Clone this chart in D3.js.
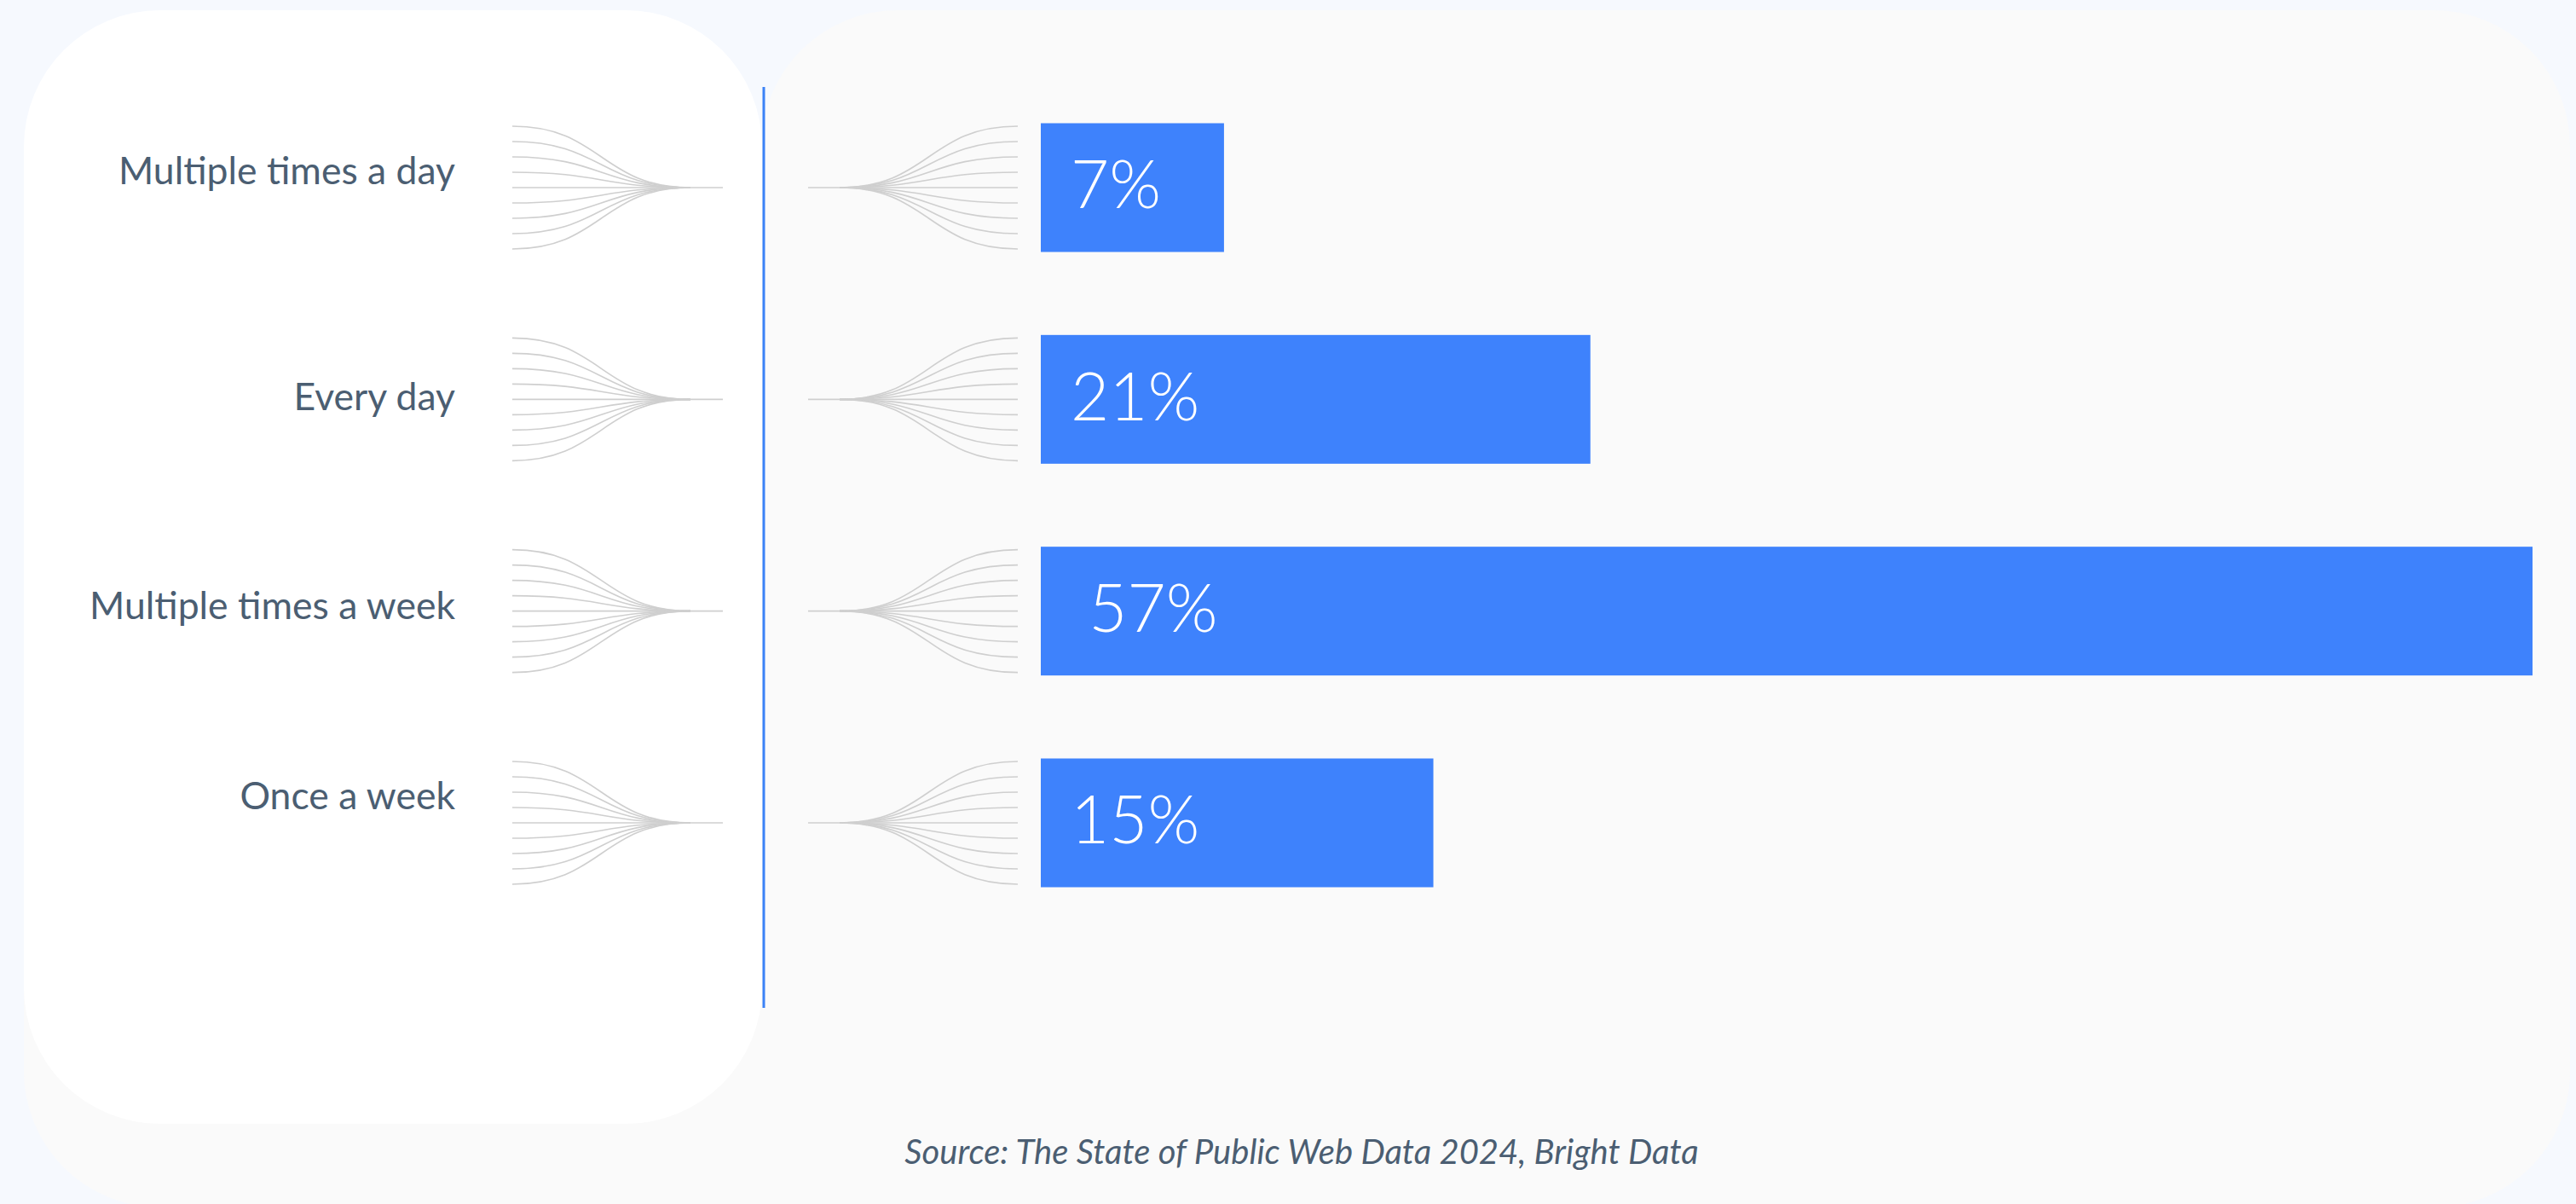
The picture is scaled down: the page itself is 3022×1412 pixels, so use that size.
<!DOCTYPE html>
<html>
<head>
<meta charset="utf-8">
<script src="https://cdn.jsdelivr.net/npm/d3@7/dist/d3.min.js"></script>
<style>
  html, body { margin: 0; padding: 0; background: #f6f9fe; }
  svg { display: block; }
</style>
</head>
<body>
<script>
// ---- data ----
const categories = ["Multiple times a day", "Every day", "Multiple times a week", "Once a week"];
const values = [7, 21, 57, 15];
const valueLabels = ["7%", "21%", " 57%", "15%"];
const sourceText = "Source: The State of Public Web Data 2024, Bright Data";

const W = 3022, H = 1412;
const svg = d3.select("body").append("svg").attr("width", W).attr("height", H);

// background panels
svg.append("rect").attr("width", W).attr("height", H).attr("fill", "#f6f9fe");
svg.append("rect").attr("x", 893).attr("y", 12).attr("width", 2122).attr("height", 1404)
  .attr("rx", 160).attr("ry", 160).attr("fill", "#fafafa");
svg.append("rect").attr("x", 28).attr("y", 600).attr("width", 2987).attr("height", 816)
  .attr("rx", 160).attr("ry", 160).attr("fill", "#fafafa");
svg.append("rect").attr("x", 28).attr("y", 12).attr("width", 866).attr("height", 1306)
  .attr("rx", 160).attr("ry", 160).attr("fill", "#ffffff");

// scales
const y = d3.scalePoint().domain(categories).range([220, 965]);
const x = d3.scaleLinear().domain([0, 57]).range([1221, 2971]);
const barH = 151;

// axis line (blue vertical)
svg.append("line").attr("x1", 896).attr("x2", 896).attr("y1", 102).attr("y2", 1182)
  .attr("stroke", "#3b82f6").attr("stroke-width", 3);

// fans
const fanOffsets = d3.range(-4, 5).map(i => i * 18);
const link = d3.linkHorizontal().x(d => d[0]).y(d => d[1]);
const fanG = svg.append("g").attr("fill", "none").attr("stroke", "#cfcfcf").attr("stroke-width", 1.6);

categories.forEach(c => {
  const cy = y(c);
  fanOffsets.forEach(o => {
    fanG.append("path").attr("d", link({source: [601, cy + o], target: [810, cy]}));
  });
  fanG.append("line").attr("x1", 808).attr("x2", 848).attr("y1", cy).attr("y2", cy);
  fanOffsets.forEach(o => {
    fanG.append("path").attr("d", link({source: [985, cy], target: [1194, cy + o]}));
  });
  fanG.append("line").attr("x1", 948).attr("x2", 987).attr("y1", cy).attr("y2", cy);
});

// category labels (the original layout nudges each label slightly)
const labelNudge = [-4, 13, 9, -16];
svg.append("g").selectAll("text").data(categories).join("text")
  .attr("x", 534).attr("y", (d, i) => y(d) + labelNudge[i])
  .attr("text-anchor", "end")
  .attr("font-family", "Lato, 'Open Sans', sans-serif")
  .attr("font-size", 44.5)
  .attr("fill", "#4b5e72")
  .text(d => d);

// bars
svg.append("g").selectAll("rect").data(categories).join("rect")
  .attr("x", x(0))
  .attr("y", d => y(d) - barH / 2)
  .attr("width", (d, i) => x(values[i]) - x(0))
  .attr("height", barH)
  .attr("fill", "#3e82fc");

// value labels
svg.append("g").selectAll("text").data(categories).join("text")
  .attr("x", x(0) + 35)
  .attr("y", d => y(d))
  .attr("dy", "0.31em")
  .attr("xml:space", "preserve")
  .style("white-space", "pre")
  .attr("font-family", "Lato, 'Open Sans', sans-serif")
  .attr("font-weight", 300)
  .attr("font-size", 78)
  .attr("fill", "#ffffff")
  .text((d, i) => valueLabels[i]);

// source
svg.append("text").attr("x", 1527).attr("y", 1365)
  .attr("text-anchor", "middle")
  .attr("font-family", "Lato, 'Open Sans', sans-serif")
  .attr("font-style", "italic")
  .attr("font-size", 40)
  .attr("fill", "#4b5e72")
  .text(sourceText);
</script>
</body>
</html>
